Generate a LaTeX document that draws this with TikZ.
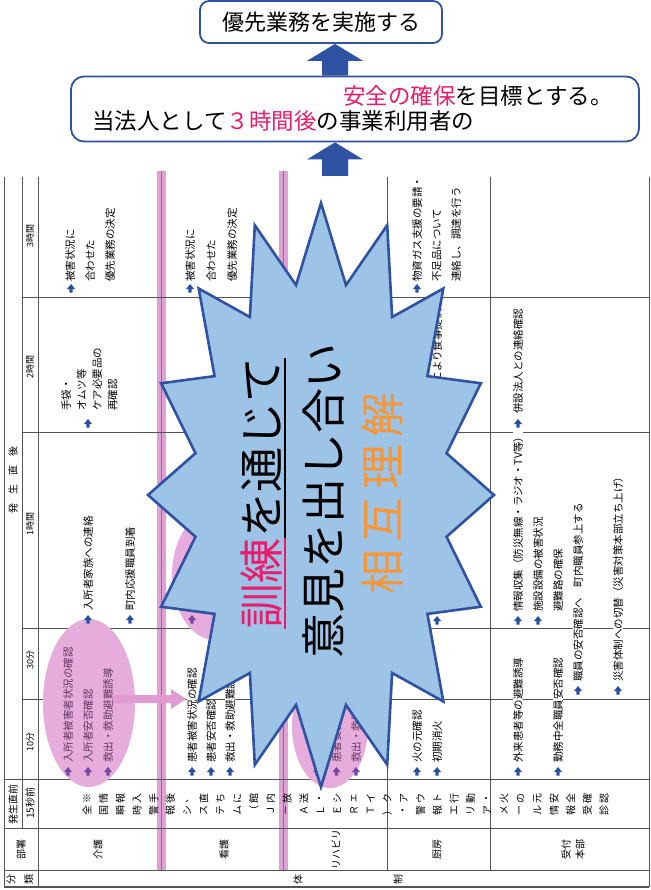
\documentclass[tikz,border=0pt]{standalone}
\usepackage{fontspec}
\setmainfont{Noto Sans CJK JP}
\usetikzlibrary{calc}
\definecolor{gridc}{RGB}{85,85,85}
\definecolor{bandc}{RGB}{222,162,212}
\definecolor{bandl}{RGB}{165,95,155}
\definecolor{ellc}{RGB}{230,172,220}
\definecolor{arrc}{RGB}{224,156,210}
\definecolor{bulc}{RGB}{40,80,165}
\definecolor{bulpc}{RGB}{120,70,160}
\definecolor{txtp}{RGB}{95,55,100}
\definecolor{starf}{RGB}{157,195,230}
\definecolor{stard}{RGB}{47,82,162}
\definecolor{pinkc}{RGB}{232,28,108}
\definecolor{orangec}{RGB}{245,150,55}
\newcommand\tcell[6]{\foreach \tline [count=\i] in {#6}{\node[#5, anchor=base west] (#1-\i) at ({#2+4+(\i-1)*#4}, #3) {\tline};}}
\tikzset{
  bul/.pic={\fill[bulc] (-4,1) -- (0,-4) -- (4,1) -- (1.7,1) -- (1.7,4.5) -- (-1.7,4.5) -- (-1.7,1) -- cycle;},
  bulp/.pic={\fill[bulpc] (-4,1) -- (0,-4) -- (4,1) -- (1.7,1) -- (1.7,4.5) -- (-1.7,4.5) -- (-1.7,1) -- cycle;},
  gridl/.style={draw=gridc, line width=1pt},
  ct/.style={rotate=90, inner sep=0pt, font=\fontsize{10.5}{12}\selectfont, fill=white, text=black},
  cte/.style={rotate=90, inner sep=0pt, font=\fontsize{10.5}{12}\selectfont, text=txtp},
  hd/.style={rotate=90, inner sep=0pt, font=\fontsize{10}{14}\selectfont, text=black},
  tl/.style={rotate=90, inner sep=0pt, font=\fontsize{9}{11}\selectfont, text=black},
  stt/.style={rotate=90, inner sep=0pt, font=\fontsize{45}{50}\selectfont},
  box/.style={draw=stard, line width=1.8pt, rounded corners=9pt, fill=white, inner sep=0pt},
  blockarrow/.style={fill=stard}
}
\begin{document}
\begin{tikzpicture}[x=1pt,y=-1pt]
\useasboundingbox (0,0) rectangle (650,890);
\fill[white] (0,0) rectangle (650,890);

% pink bands
\fill[bandc] (157,171) rectangle (166,870);
\fill[bandc] (279,171) rectangle (288,870);

% grid
\draw[gridl] (4,177) -- (4,887);
\draw[gridl] (22,177) -- (22,828);
\draw[gridl] (38,177) -- (38,887);
\draw[gridl] (387,177) -- (387,870);
\draw[gridl] (490,177) -- (490,870);
\draw[gridl] (649,177) -- (649,887);
\draw[bandl, line width=1.2pt] (161.5,171) -- (161.5,870);
\draw[bandl, line width=1.2pt] (283.5,171) -- (283.5,870);
\foreach \yy in {297,432,628,699} {\draw[gridl] (22,\yy) -- (649,\yy);}
\foreach \yy in {779,828,870} {\draw[gridl] (4,\yy) -- (649,\yy);}
\draw[gridl, line width=1.4pt] (4,887) -- (649,887);

% ellipses and pink arrow
\fill[ellc] (89,703) ellipse [x radius=46, y radius=84];
\fill[ellc] (215,575) ellipse [x radius=43, y radius=65];
\fill[ellc] (330,726) ellipse [x radius=38, y radius=62];
\fill[arrc] (113,695) -- (171,695) -- (171,689) -- (186,699) -- (171,709) -- (171,703) -- (113,703) -- cycle;

% header column
\node[hd] (hdgo) at (13,480) {発\hspace{9pt}生\hspace{9pt}直\hspace{9pt}後};
\node[tl] (t3) at (30,236) {3時間};
\node[tl] (t2) at (30,367) {2時間};
\node[tl] (t1) at (30,524) {1時間};
\node[tl] (t30) at (30,660) {30分};
\node[tl] (t10) at (30,742) {10分};
\node[hd] (hdmae) at (13,804) {発生直前};
\node[hd] (t15) at (30,803) {15秒前};
\node[hd] (bush) at (21,849) {部署};
\node[hd] (bun) at (11,879) {分};
\node[hd] (rui) at (29,879) {類};
\node[hd] (d1) at (98,849) {介護};
\node[hd] (d2) at (224,849) {看護};
\node[hd] (d3) at (336,849) {リハビリ};
\node[hd] (d4) at (437,849) {厨房};
\node[hd, align=center] (d5) at (573,849) {受付\\本部};
\node[hd] (tai) at (298,879) {体};
\node[hd] (sei) at (398,879) {制};

% just-before row (vertical writing, rotated)
\foreach \ch [count=\i] in {※,情,報,入,手,後,、,直,ち,に,館,内,放,送,・,シ,ェ,イ,ク,ア,ウ,ト,行,動,・,火,の,元,安,全,確,認}
  {\node[hd] (pa-\i) at ({87+(\i-1)*16.68},798) {\ch};}
\foreach \ch [count=\i] in {全,国,瞬,時,警,報,シ,ス,テ,ム,（,Ｊ,－,Ａ,Ｌ,Ｅ,Ｒ,Ｔ,）,・,警,報,エ,リ,ア,メ,ー,ル,情,報,受,診}
  {\node[hd] (pb-\i) at ({87+(\i-1)*16.68},810) {\ch};}

% cells: 3 hours
\tcell{k3}{70}{282}{20}{ct}{被害状況に,合わせた,優先業務の決定}
\pic at (71,288) {bul};
\tcell{n3}{190}{282}{21}{ct}{被害状況に,合わせた,優先業務の決定}
\pic at (190,288) {bul};
\tcell{c3}{417}{282}{19.5}{ct}{物資ガス支援の要請・,不足品について,連絡し、調達を行う}
\pic at (417,288) {bul};
% 2 hours
\tcell{k2}{66}{411}{15.5}{ct}{手袋・,オムツ等,ケア必要品の,再確認}
\pic at (88,423) {bul};
\tcell{c2}{437}{414}{0}{ct}{備蓄品により食事提供}
\pic at (437,423) {bul};
\tcell{u2}{518}{414}{0}{ct}{併設法人との連絡確認}
\pic at (518,423) {bul};
% 1 hour
\tcell{k1a}{88}{611}{0}{ct}{入所者家族への連絡}
\pic at (88,619) {bul};
\tcell{k1b}{130}{611}{0}{ct}{町内応援職員到着}
\pic at (130,619) {bul};
\pic at (192,619) {bulp};
\pic at (437,620) {bul};
\tcell{u1}{518}{612}{20}{ct}{情報収集（防災無線・ラジオ・TV等）,施設設備の被害状況,避難路の確保}
\pic at (518,620) {bul};
\pic at (538,620) {bul};
% 30 minutes
\tcell{u30a}{578}{682}{0}{ct}{職員の安否確認へ　町内職員参上する}
\pic at (578,690) {bul};
\tcell{u30b}{618}{682}{0}{ct}{災害体制への切替（災害対策本部立ち上げ）}
\pic at (618,690) {bul};
% 10 minutes
\tcell{kk}{68}{763}{20}{cte}{入所者被害者状況の確認,入所者安否確認,救出・救助避難誘導}
\pic at (68,771) {bulp};
\pic at (88,771) {bulp};
\pic at (108,771) {bulp};
\tcell{n10}{192}{763}{19}{ct}{患者被害状況の確認,患者安否確認,救出・救助避難誘導}
\pic at (192,771) {bul};
\pic at (211,771) {bul};
\pic at (230,771) {bul};
\tcell{r10}{317}{763}{19.5}{cte}{患者被害状況の確認,患者安否確認,救出・救助避難誘導}
\pic at (317,771) {bulp};
\pic at (336.5,771) {bulp};
\pic at (356,771) {bulp};
\tcell{c10}{417}{763}{20}{ct}{火の元確認,初期消火}
\pic at (417,771) {bul};
\pic at (437,771) {bul};
\tcell{u10}{518}{763}{40}{ct}{外来患者等の避難誘導,勤務中全職員安否確認}
\pic at (518,771) {bul};
\pic at (558,771) {bul};

% starburst
\draw[stard, line width=2.6pt, fill=starf, line join=miter]
  plot[samples at={0,...,31}, variable=\k]
  ({321+(150.5+22.5*cos(\k*180))*sin(\k*11.25)}, {495-(253+39*cos(\k*180))*cos(\k*11.25)}) -- cycle;
\node[stt, text=pinkc, anchor=base west] (s1a) at (278,628.5) {訓練};
\node[stt, text=black, anchor=base west] (s1b) at (s1a.base east) {を通じて};
\draw[pinkc, line width=2pt] ([xshift=7pt]s1a.base west) -- ([xshift=7pt]s1a.base east);
\draw[black, line width=2pt] ([xshift=7pt]s1b.base west) -- ([xshift=7pt]s1b.base east);
\node[stt, text=black, anchor=base west] (s2) at (340,658.6) {意見を出し合い};
\node[stt, text=orangec, anchor=base west] (s3) at (399,595) {相\hspace{7.5pt}互\hspace{7.5pt}理\hspace{7.5pt}解};

% top boxes
\node[box, minimum width=242pt, minimum height=42pt, font=\fontsize{22}{24}\selectfont] (b1) at (321,22) {優先業務を実施する};
\node[box, minimum width=568pt, minimum height=65pt, rounded corners=13pt] (b2) at (355,109) {};
\node[anchor=west, inner sep=0pt, font=\fontsize{22.5}{24}\selectfont] (b2l1) at (343,96) {\textcolor{pinkc}{安全の確保}を目標とする。};
\node[anchor=west, inner sep=0pt, font=\fontsize{22.5}{24}\selectfont] (b2l2) at (92,121) {当法人として\textcolor{pinkc}{３時間後}の事業利用者の};

% block arrows
\coordinate (ax) at (335,0);
\coordinate (tabtop) at (0,176);
\path (ax |- b1.south) coordinate (u1t) (ax |- b2.north) coordinate (u1b)
      (ax |- b2.south) coordinate (u2t) (ax |- tabtop) coordinate (u2b);
\fill[blockarrow] (u1t) -- ([shift={(28,17)}]u1t) -- ([shift={(13,17)}]u1t) -- ([xshift=13pt]u1b) -- ([xshift=-13pt]u1b) -- ([shift={(-13,17)}]u1t) -- ([shift={(-28,17)}]u1t) -- cycle;
\fill[blockarrow] (u2t) -- ([shift={(28,17)}]u2t) -- ([shift={(13,17)}]u2t) -- ([xshift=13pt]u2b) -- ([xshift=-13pt]u2b) -- ([shift={(-13,17)}]u2t) -- ([shift={(-28,17)}]u2t) -- cycle;
\end{tikzpicture}
\end{document}
